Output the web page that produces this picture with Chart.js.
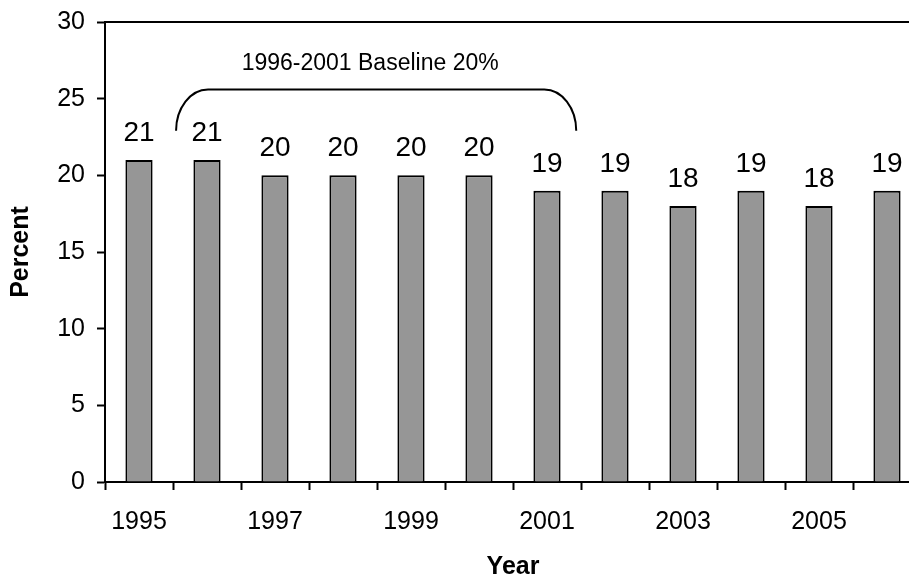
<!DOCTYPE html>
<html>
<head>
<meta charset="utf-8">
<script src="https://cdn.jsdelivr.net/npm/chart.js@4.4.0/dist/chart.umd.min.js"></script>
<style>
  html, body { margin: 0; padding: 0; background: #fff; overflow: hidden; }
  #wrap { position: relative; width: 930px; height: 580px; }
</style>
</head>
<body>
<div id="wrap"><canvas id="chart"></canvas></div>
<script>
// Yearly percentages
const years = ['1995', '1996', '1997', '1998', '1999', '2000', '2001', '2002', '2003', '2004', '2005', '2006'];
const percentValues = [21, 21, 20, 20, 20, 20, 19, 19, 18, 19, 18, 19];
const yTickValues = [0, 5, 10, 15, 20, 25, 30];
const baselineText = '1996-2001 Baseline 20%';

const FONT = '"Liberation Sans", Arial, Helvetica, sans-serif';

// Top edge of the plot frame
const framePlugin = {
  id: 'frameTop',
  afterDraw(chart) {
    const { ctx, chartArea } = chart;
    ctx.save();
    ctx.strokeStyle = '#000';
    ctx.lineWidth = 2;
    ctx.beginPath();
    ctx.moveTo(chartArea.left, chartArea.top);
    ctx.lineTo(chartArea.right + 2, chartArea.top);
    ctx.stroke();
    ctx.restore();
  }
};

// Value printed above each bar
const valueLabelPlugin = {
  id: 'valueLabels',
  afterDatasetsDraw(chart) {
    const { ctx } = chart;
    const meta = chart.getDatasetMeta(0);
    ctx.save();
    ctx.fillStyle = '#000';
    ctx.font = '28px ' + FONT;
    ctx.textAlign = 'center';
    ctx.textBaseline = 'alphabetic';
    meta.data.forEach((bar, i) => {
      ctx.fillText(String(percentValues[i]), bar.x, bar.y - 19);
    });
    ctx.restore();
  }
};

// Rounded bracket over the baseline years with its caption
const bracketPlugin = {
  id: 'baselineBracket',
  afterDraw(chart) {
    const { ctx } = chart;
    const xs = chart.scales.x, ys = chart.scales.y;
    const step = xs.getPixelForValue(1) - xs.getPixelForValue(0);
    const x0 = xs.getPixelForValue(0) + 0.545 * step;
    const x1 = xs.getPixelForValue(6) + 0.43 * step;
    const yb = ys.getPixelForValue(22.9);
    const yt = ys.getPixelForValue(25.6);
    const rx = 0.47 * step;
    const ry = yb - yt;
    ctx.save();
    ctx.strokeStyle = '#000';
    ctx.lineWidth = 2;
    ctx.beginPath();
    ctx.moveTo(x0, yb);
    ctx.ellipse(x0 + rx, yb, rx, ry, 0, Math.PI, 1.5 * Math.PI);
    ctx.lineTo(x1 - rx, yt);
    ctx.ellipse(x1 - rx, yb, rx, ry, 0, 1.5 * Math.PI, 2 * Math.PI);
    ctx.stroke();

    ctx.fillStyle = '#000';
    ctx.font = '23px ' + FONT;
    ctx.textAlign = 'center';
    ctx.textBaseline = 'alphabetic';
    ctx.fillText(baselineText, (x0 + x1) / 2 - 6, ys.getPixelForValue(26.85));
    ctx.restore();
  }
};

new Chart(document.getElementById('chart'), {
  type: 'bar',
  data: {
    labels: years,
    datasets: [{
      data: percentValues,
      backgroundColor: '#969696',
      borderColor: '#000',
      borderWidth: 2,
      barPercentage: 0.4,
      categoryPercentage: 1.0
    }]
  },
  options: {
    responsive: true,
    maintainAspectRatio: false,
    animation: false,
    devicePixelRatio: 1,
    layout: { padding: { top: 22, right: 9, bottom: 0, left: 0 } },
    plugins: {
      legend: { display: false },
      tooltip: { enabled: false },
      title: { display: false }
    },
    scales: {
      x: {
        type: 'category',
        offset: true,
        grid: {
          display: true,
          offset: true,
          drawOnChartArea: false,
          drawTicks: true,
          tickLength: 8,
          tickWidth: 2,
          tickColor: '#000'
        },
        border: { display: true, color: '#000', width: 2 },
        ticks: {
          autoSkip: false,
          maxRotation: 0,
          minRotation: 0,
          padding: 17,
          color: '#000',
          font: { family: FONT, size: 25 },
          callback: (v, i) => (i % 2 === 0 ? years[i] : '')
        },
        title: {
          display: true,
          text: 'Year',
          color: '#000',
          font: { family: FONT, size: 25, weight: 'bold', lineHeight: 1 },
          padding: { top: 0, bottom: 0 }
        },
        afterFit(scale) { scale.height = 98; }
      },
      y: {
        min: 0,
        max: 30,
        afterBuildTicks(scale) {
          scale.ticks = yTickValues.map(v => ({ value: v }));
        },
        grid: {
          display: true,
          drawOnChartArea: false,
          drawTicks: true,
          tickLength: 8,
          tickWidth: 2,
          tickColor: '#000'
        },
        border: { display: true, color: '#000', width: 2 },
        ticks: {
          padding: 12,
          color: '#000',
          font: { family: FONT, size: 25 }
        },
        title: {
          display: true,
          text: 'Percent',
          color: '#000',
          font: { family: FONT, size: 25, weight: 'bold', lineHeight: 1 },
          padding: { top: 9, bottom: 0 }
        },
        afterFit(scale) {
          scale.width = 105;
          scale.paddingTop = 0;
          scale.paddingBottom = 0;
        }
      }
    }
  },
  plugins: [framePlugin, valueLabelPlugin, bracketPlugin]
});
</script>
</body>
</html>
